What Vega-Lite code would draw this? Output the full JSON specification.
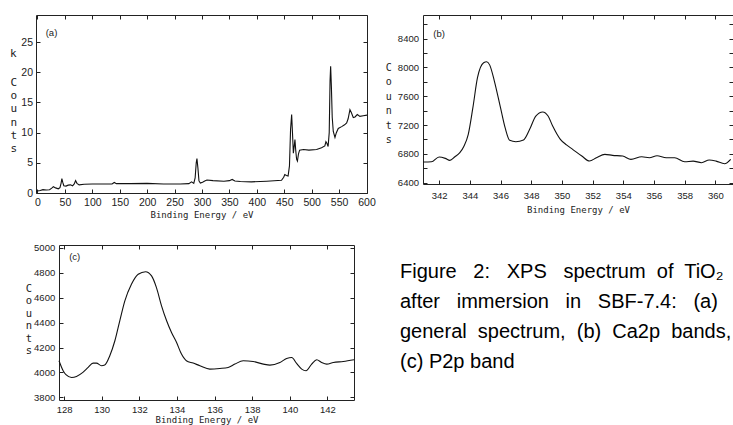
{
  "$schema": "https://vega.github.io/schema/vega-lite/v6.json",
  "background": "white",
  "padding": {"left": 10, "top": 14, "right": 0, "bottom": 0},
  "autosize": {"type": "pad"},
  "datasets": {
    "specA": [
      {"x": -2.7, "y": 0.3}, {"x": 5, "y": 0.4}, {"x": 10, "y": 0.55}, {"x": 16, "y": 0.5}, {"x": 22, "y": 0.55},
      {"x": 26, "y": 0.8}, {"x": 29, "y": 1.05}, {"x": 33, "y": 0.85}, {"x": 38, "y": 0.7}, {"x": 41, "y": 0.9},
      {"x": 43, "y": 1.6}, {"x": 44.5, "y": 2.4}, {"x": 46, "y": 1.8}, {"x": 48, "y": 1.2}, {"x": 52, "y": 1.15},
      {"x": 56, "y": 1.3}, {"x": 60, "y": 1.35}, {"x": 64, "y": 1.2}, {"x": 67, "y": 1.5}, {"x": 69.5, "y": 2.05},
      {"x": 72, "y": 1.6}, {"x": 76, "y": 1.35}, {"x": 85, "y": 1.45}, {"x": 100, "y": 1.5}, {"x": 120, "y": 1.5},
      {"x": 136, "y": 1.5}, {"x": 140, "y": 1.75}, {"x": 144, "y": 1.55}, {"x": 170, "y": 1.55}, {"x": 200, "y": 1.6},
      {"x": 230, "y": 1.5}, {"x": 260, "y": 1.5}, {"x": 276, "y": 1.55}, {"x": 281, "y": 1.85}, {"x": 285, "y": 1.6},
      {"x": 287.5, "y": 2.5}, {"x": 289.5, "y": 5.0}, {"x": 290.8, "y": 5.7}, {"x": 292.5, "y": 4.2}, {"x": 294.5, "y": 2.0},
      {"x": 297, "y": 1.65}, {"x": 301, "y": 1.8}, {"x": 305, "y": 2.0}, {"x": 309, "y": 2.15}, {"x": 320, "y": 2.05},
      {"x": 340, "y": 1.95}, {"x": 350, "y": 2.05}, {"x": 355, "y": 2.25}, {"x": 360, "y": 2.0}, {"x": 370, "y": 1.9},
      {"x": 390, "y": 1.85}, {"x": 418, "y": 1.95}, {"x": 445, "y": 2.1}, {"x": 449, "y": 2.6}, {"x": 451, "y": 3.05},
      {"x": 454, "y": 2.9}, {"x": 457, "y": 2.8}, {"x": 459.5, "y": 4.5}, {"x": 461.5, "y": 10.5}, {"x": 463.5, "y": 13.0},
      {"x": 465, "y": 10.0}, {"x": 466.6, "y": 6.6}, {"x": 468, "y": 7.6}, {"x": 469.5, "y": 8.85}, {"x": 471, "y": 7.0},
      {"x": 472.5, "y": 5.6}, {"x": 474, "y": 5.3}, {"x": 476, "y": 6.5}, {"x": 478, "y": 7.1}, {"x": 485, "y": 7.2},
      {"x": 495, "y": 7.1}, {"x": 509, "y": 7.2}, {"x": 518, "y": 7.5}, {"x": 524, "y": 7.8}, {"x": 526, "y": 8.5},
      {"x": 528, "y": 8.2}, {"x": 530, "y": 7.7}, {"x": 532, "y": 10.0}, {"x": 533.5, "y": 18.5}, {"x": 534.6, "y": 21.0},
      {"x": 536, "y": 17.5}, {"x": 537.5, "y": 12.5}, {"x": 539.4, "y": 10.2}, {"x": 542.5, "y": 9.2}, {"x": 545, "y": 10.0},
      {"x": 548.5, "y": 10.7}, {"x": 554.7, "y": 11.0}, {"x": 560, "y": 11.3}, {"x": 563.8, "y": 11.6}, {"x": 566.5, "y": 12.3},
      {"x": 569.8, "y": 13.8}, {"x": 572.5, "y": 13.3}, {"x": 575.9, "y": 12.5}, {"x": 579, "y": 12.6}, {"x": 583.2, "y": 13.0},
      {"x": 588, "y": 12.7}, {"x": 594, "y": 12.8}, {"x": 600.9, "y": 12.9}
    ],
    "specB": [
      {"x": 340.96, "y": 6687}, {"x": 341.5, "y": 6690}, {"x": 342.0, "y": 6757}, {"x": 342.4, "y": 6738}, {"x": 342.7, "y": 6710},
      {"x": 343.03, "y": 6761}, {"x": 343.35, "y": 6817}, {"x": 343.6, "y": 6900}, {"x": 343.9, "y": 7072}, {"x": 344.2, "y": 7442},
      {"x": 344.5, "y": 7858}, {"x": 344.9, "y": 8067}, {"x": 345.1, "y": 8080}, {"x": 345.3, "y": 8033}, {"x": 345.6, "y": 7812},
      {"x": 346.0, "y": 7442}, {"x": 346.3, "y": 7164}, {"x": 346.6, "y": 6988}, {"x": 347.0, "y": 6969}, {"x": 347.5, "y": 6993},
      {"x": 347.9, "y": 7141}, {"x": 348.3, "y": 7326}, {"x": 348.75, "y": 7382}, {"x": 349.1, "y": 7326}, {"x": 349.4, "y": 7187},
      {"x": 349.9, "y": 7002}, {"x": 350.3, "y": 6925}, {"x": 350.7, "y": 6863}, {"x": 351.3, "y": 6770}, {"x": 351.8, "y": 6701},
      {"x": 352.25, "y": 6747}, {"x": 352.8, "y": 6794}, {"x": 353.3, "y": 6780}, {"x": 353.96, "y": 6770}, {"x": 354.5, "y": 6724},
      {"x": 355.2, "y": 6760}, {"x": 355.7, "y": 6747}, {"x": 356.2, "y": 6775}, {"x": 356.8, "y": 6747}, {"x": 357.35, "y": 6747},
      {"x": 358.0, "y": 6690}, {"x": 358.55, "y": 6700}, {"x": 359.1, "y": 6678}, {"x": 359.6, "y": 6715}, {"x": 360.05, "y": 6700},
      {"x": 360.6, "y": 6663}, {"x": 361.0, "y": 6724}
    ],
    "specC": [
      {"x": 127.73, "y": 4094}, {"x": 127.95, "y": 4014}, {"x": 128.1, "y": 3982}, {"x": 128.4, "y": 3960}, {"x": 128.66, "y": 3968},
      {"x": 129.0, "y": 4000}, {"x": 129.28, "y": 4040}, {"x": 129.54, "y": 4075}, {"x": 129.72, "y": 4075}, {"x": 129.99, "y": 4054},
      {"x": 130.16, "y": 4059}, {"x": 130.43, "y": 4134}, {"x": 130.7, "y": 4254}, {"x": 130.96, "y": 4414}, {"x": 131.23, "y": 4574},
      {"x": 131.58, "y": 4707}, {"x": 131.94, "y": 4787}, {"x": 132.33, "y": 4808}, {"x": 132.65, "y": 4774}, {"x": 132.91, "y": 4680},
      {"x": 133.18, "y": 4534}, {"x": 133.45, "y": 4414}, {"x": 133.71, "y": 4320}, {"x": 133.98, "y": 4240}, {"x": 134.24, "y": 4147},
      {"x": 134.5, "y": 4094}, {"x": 134.86, "y": 4075}, {"x": 135.22, "y": 4054}, {"x": 135.75, "y": 4027}, {"x": 136.28, "y": 4032},
      {"x": 136.72, "y": 4040}, {"x": 137.08, "y": 4067}, {"x": 137.52, "y": 4094}, {"x": 138.05, "y": 4088}, {"x": 138.59, "y": 4067},
      {"x": 138.94, "y": 4059}, {"x": 139.47, "y": 4080}, {"x": 139.83, "y": 4112}, {"x": 140.1, "y": 4120}, {"x": 140.36, "y": 4072},
      {"x": 140.63, "y": 4027}, {"x": 140.86, "y": 4014}, {"x": 141.16, "y": 4067}, {"x": 141.43, "y": 4102}, {"x": 141.69, "y": 4080},
      {"x": 141.96, "y": 4067}, {"x": 142.31, "y": 4080}, {"x": 142.84, "y": 4088}, {"x": 143.41, "y": 4102}
    ],
    "caption": [
      {"line": 1, "text": "Figure\u00a0\u00a0 2:\u00a0\u00a0 XPS\u00a0\u00a0 spectrum\u00a0 of\u00a0 TiO₂"},
      {"line": 2, "text": "after\u00a0\u00a0 immersion\u00a0\u00a0 in\u00a0\u00a0 SBF-7.4:\u00a0\u00a0 (a)"},
      {"line": 3, "text": "general\u00a0 spectrum,\u00a0 (b)\u00a0 Ca2p\u00a0 bands,"},
      {"line": 4, "text": "(c) P2p band"}
    ]
  },
  "columns": 2,
  "spacing": {"row": 52, "column": 56},
  "bounds": "flush",
  "align": "all",
  "concat": [
    {
      "width": 331,
      "height": 178,
      "layer": [
        {
          "data": {"name": "specA"},
          "mark": {"type": "line", "color": "#111", "strokeWidth": 1.1, "clip": true},
          "encoding": {
            "x": {"field": "x", "type": "quantitative", "scale": {"domain": [-2.7, 600.9], "nice": false, "zero": false},
              "axis": {"orient": "bottom", "values": [0, 50, 100, 150, 200, 250, 300, 350, 400, 450, 500, 550, 600], "labelFontSize": 10.5, "labelPadding": 8,
                "title": "Binding Energy / eV", "titleFontSize": 9, "titleY": 21, "titleBaseline": "middle"}},
            "y": {"field": "y", "type": "quantitative", "scale": {"domain": [0, 29.5], "nice": false, "zero": false},
              "axis": {"orient": "left", "values": [0, 5, 10, 15, 20, 25], "labelFontSize": 10.5, "labelPadding": 7.5,
                "title": ["C", "o", "u", "n", "t", "s"], "titleAngle": 0, "titleAlign": "left", "titleX": -26, "titleY": 61.3,
                "titleBaseline": "top", "titleLineHeight": 13.3, "titleFontSize": 11}}
          }
        },
        {
          "data": {"name": "specA"},
          "mark": {"type": "line", "opacity": 0},
          "encoding": {
            "x": {"field": "x", "type": "quantitative", "scale": {"domain": [-2.7, 600.9], "nice": false, "zero": false},
              "axis": {"orient": "top", "values": [0, 50, 100, 150, 200, 250, 300, 350, 400, 450, 500, 550, 600], "labels": false, "title": null}},
            "y": {"field": "y", "type": "quantitative", "scale": {"domain": [0, 29.5], "nice": false, "zero": false},
              "axis": {"orient": "right", "values": [0, 5, 10, 15, 20, 25], "labels": false, "title": null}}
          }
        },
        {
          "data": {"values": [{"label": "(a)"}]},
          "mark": {"type": "text", "font": "Liberation Sans", "fontSize": 9.5, "align": "left", "baseline": "middle", "fill": "#222"},
          "encoding": {
            "x": {"datum": 15, "type": "quantitative", "axis": null},
            "y": {"datum": 26.5, "type": "quantitative", "axis": null},
            "text": {"field": "label"}
          }
        },
        {
          "data": {"values": [{"unit": "k"}]},
          "mark": {"type": "text", "font": "DejaVu Sans Mono", "fontSize": 11, "align": "left", "baseline": "middle", "fill": "#222", "fontWeight": "normal"},
          "encoding": {
            "x": {"datum": -50.11, "type": "quantitative", "axis": null},
            "y": {"datum": 23.0, "type": "quantitative", "axis": null},
            "text": {"field": "unit"}
          }
        }
      ],
      "resolve": {"axis": {"x": "independent", "y": "independent"}}
    },
    {
      "width": 310,
      "height": 169,
      "layer": [
        {
          "data": {"name": "specB"},
          "mark": {"type": "line", "color": "#111", "strokeWidth": 1.1, "interpolate": "monotone", "clip": true},
          "encoding": {
            "x": {"field": "x", "type": "quantitative", "scale": {"domain": [340.95, 361.15], "nice": false, "zero": false},
              "axis": {"orient": "bottom", "values": [342, 344, 346, 348, 350, 352, 354, 356, 358, 360], "labelFontSize": 9.5, "labelPadding": 10,
                "title": "Binding Energy / eV", "titleFontSize": 9, "titleY": 25, "titleBaseline": "middle"}},
            "y": {"field": "y", "type": "quantitative", "scale": {"domain": [6382, 8729], "nice": false, "zero": false},
              "axis": {"orient": "left", "values": [6400, 6600, 6800, 7000, 7200, 7400, 7600, 7800, 8000, 8200, 8400, 8600], "format": "d",
                "labelExpr": "datum.value % 400 === 0 ? datum.label : ''", "labelFontSize": 9.5, "labelPadding": 8.5,
                "title": ["C", "o", "u", "n", "t", "s"], "titleAngle": 0, "titleAlign": "center", "titleX": -34.7, "titleY": 47.5,
                "titleBaseline": "top", "titleLineHeight": 14.4, "titleFontSize": 10}}
          }
        },
        {
          "data": {"name": "specB"},
          "mark": {"type": "line", "opacity": 0},
          "encoding": {
            "x": {"field": "x", "type": "quantitative", "scale": {"domain": [340.95, 361.15], "nice": false, "zero": false},
              "axis": {"orient": "top", "values": [342, 344, 346, 348, 350, 352, 354, 356, 358, 360], "labels": false, "title": null}},
            "y": {"field": "y", "type": "quantitative", "scale": {"domain": [6382, 8729], "nice": false, "zero": false},
              "axis": {"orient": "right", "values": [6400, 6600, 6800, 7000, 7200, 7400, 7600, 7800, 8000, 8200, 8400, 8600], "labels": false, "title": null}}
          }
        },
        {
          "data": {"values": [{"label": "(b)"}]},
          "mark": {"type": "text", "font": "Liberation Sans", "fontSize": 9.5, "align": "left", "baseline": "middle", "fill": "#222"},
          "encoding": {
            "x": {"datum": 341.62, "type": "quantitative", "axis": null},
            "y": {"datum": 8461, "type": "quantitative", "axis": null},
            "text": {"field": "label"}
          }
        }
      ],
      "resolve": {"axis": {"x": "independent", "y": "independent"}}
    },
    {
      "width": 318,
      "height": 155,
      "layer": [
        {
          "data": {"name": "specC"},
          "mark": {"type": "line", "color": "#111", "strokeWidth": 1.1, "interpolate": "monotone"},
          "encoding": {
            "x": {"field": "x", "type": "quantitative", "scale": {"domain": [127.73, 143.41], "range": [23, 318], "nice": false, "zero": false},
              "axis": {"orient": "bottom", "values": [128, 130, 132, 134, 136, 138, 140, 142], "labelFontSize": 9.5, "labelPadding": 8,
                "title": "Binding Energy / eV", "titleFontSize": 9, "titleY": 19.5, "titleBaseline": "middle"}},
            "y": {"field": "y", "type": "quantitative", "scale": {"domain": [3779, 5022], "nice": false, "zero": false},
              "axis": {"orient": "left", "offset": -23, "values": [3800, 4000, 4200, 4400, 4600, 4800, 5000], "format": "d", "labelFontSize": 9.5, "labelPadding": 8.3,
                "title": ["C", "o", "u", "n", "t", "s"], "titleAngle": 0, "titleAlign": "center", "titleX": -30.7, "titleY": 38.2,
                "titleBaseline": "top", "titleLineHeight": 12.5, "titleFontSize": 10.5}}
          }
        },
        {
          "data": {"name": "specC"},
          "mark": {"type": "line", "opacity": 0},
          "encoding": {
            "x": {"field": "x", "type": "quantitative", "scale": {"domain": [127.73, 143.41], "range": [23, 318], "nice": false, "zero": false},
              "axis": {"orient": "top", "values": [128, 130, 132, 134, 136, 138, 140, 142], "labels": false, "title": null}},
            "y": {"field": "y", "type": "quantitative", "scale": {"domain": [3779, 5022], "nice": false, "zero": false},
              "axis": {"orient": "right", "values": [3800, 4000, 4200, 4400, 4600, 4800, 5000], "labels": false, "title": null}}
          }
        },
        {
          "data": {"values": [{"label": "(c)"}]},
          "mark": {"type": "text", "font": "Liberation Sans", "fontSize": 9.5, "align": "left", "baseline": "middle", "fill": "#222"},
          "encoding": {
            "x": {"datum": 128.27, "type": "quantitative", "axis": null},
            "y": {"datum": 4926, "type": "quantitative", "axis": null},
            "text": {"field": "label"}
          }
        }
      ],
      "resolve": {"axis": {"x": "independent", "y": "independent"}}
    },
    {
      "width": 310,
      "height": 155,
      "data": {"name": "caption"},
      "mark": {"type": "text", "font": "Liberation Sans", "fontSize": 20, "align": "left", "baseline": "alphabetic", "dx": -23, "fill": "#000"},
      "encoding": {
        "x": {"datum": 0, "type": "quantitative", "scale": {"domain": [0, 1]}, "axis": null},
        "y": {"field": "line", "type": "quantitative", "scale": {"domain": [-0.1, 5.0667], "reverse": true, "nice": false, "zero": false}, "axis": null},
        "text": {"field": "text"}
      }
    }
  ],
  "config": {
    "view": {"stroke": null},
    "axis": {
      "domain": true, "domainColor": "#222", "domainWidth": 1,
      "ticks": true, "tickColor": "#222", "tickSize": -4, "tickWidth": 1,
      "grid": false,
      "labelFont": "Liberation Sans", "labelColor": "#222", "labelFlush": false, "labelOverlap": false,
      "titleFont": "DejaVu Sans Mono", "titleFontWeight": "normal", "titleColor": "#222"
    }
  }
}
